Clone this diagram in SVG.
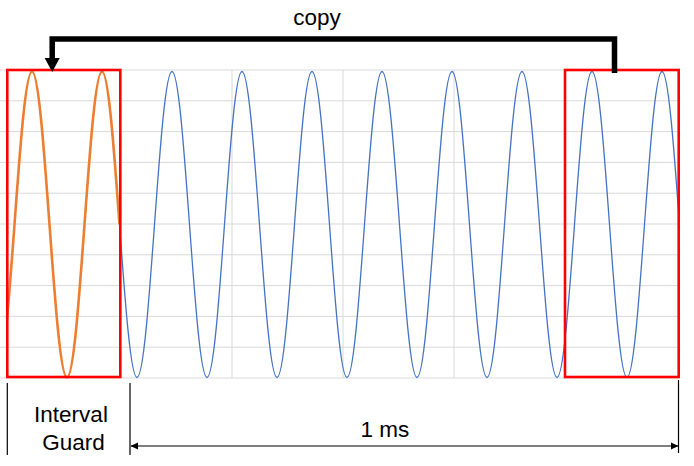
<svg xmlns="http://www.w3.org/2000/svg" width="694" height="466" viewBox="0 0 694 466">
  <style>
    .grid { stroke: #D9D9D9; stroke-width: 1; fill: none; }
    .box { fill: none; stroke: #FF0000; stroke-width: 2.6; }
    .wave-blue { fill: none; stroke: #4472C4; stroke-width: 1.3; }
    .wave-orange { fill: none; stroke: #ED7D31; stroke-width: 2.6; }
    .lbl { font-family: "Liberation Sans", Arial, sans-serif; font-size: 22.5px; fill: #000; }
    .thin { stroke: #000; stroke-width: 1.2; fill: none; }
  </style>
  <defs>
    <marker id="bigHead" markerUnits="userSpaceOnUse" markerWidth="16" markerHeight="16" viewBox="0 -8 16 16" refX="1" refY="0" orient="auto">
      <path d="M0,-7.5 L14,0 L0,7.5 Z" fill="#000"/>
    </marker>
    <marker id="smallHead" markerUnits="userSpaceOnUse" markerWidth="8" markerHeight="8" viewBox="0 -4 8 8" refX="7" refY="0" orient="auto-start-reverse">
      <path d="M0,-3.5 L7.5,0 L0,3.5 Z" fill="#000"/>
    </marker>
  </defs>
  <rect width="694" height="466" fill="#FFFFFF"/>

  <g id="chart-grid">
    <path class="grid" d="M0,70H678 M0,100.8H678 M0,131.6H678 M0,162.4H678 M0,193.2H678 M0,224H678 M0,254.8H678 M0,285.6H678 M0,316.4H678 M0,347.2H678 M0,378H678 M232,70V378 M343,70V378 M454,70V378"/>
  </g>

  <g id="waveform">
    <path class="wave-blue" d="M119.5,224.5
      c5.71,78.38 11.17,153 17.5,153 c6.33,0 11.79,-74.62 17.5,-153 c5.71,-78.38 11.17,-153 17.5,-153 c6.33,0 11.79,74.62 17.5,153
      c5.71,78.38 11.17,153 17.5,153 c6.33,0 11.79,-74.62 17.5,-153 c5.71,-78.38 11.17,-153 17.5,-153 c6.33,0 11.79,74.62 17.5,153
      c5.71,78.38 11.17,153 17.5,153 c6.33,0 11.79,-74.62 17.5,-153 c5.71,-78.38 11.17,-153 17.5,-153 c6.33,0 11.79,74.62 17.5,153
      c5.71,78.38 11.17,153 17.5,153 c6.33,0 11.79,-74.62 17.5,-153 c5.71,-78.38 11.17,-153 17.5,-153 c6.33,0 11.79,74.62 17.5,153
      c5.71,78.38 11.17,153 17.5,153 c6.33,0 11.79,-74.62 17.5,-153 c5.71,-78.38 11.17,-153 17.5,-153 c6.33,0 11.79,74.62 17.5,153
      c5.71,78.38 11.17,153 17.5,153 c6.33,0 11.79,-74.62 17.5,-153 c5.71,-78.38 11.17,-153 17.5,-153 c6.33,0 11.79,74.62 17.5,153
      c5.71,78.38 11.17,153 17.5,153 c6.33,0 11.79,-74.62 17.5,-153 c5.71,-78.38 11.17,-153 17.5,-153 c6.33,0 11.79,74.62 17.5,153
      c5.71,78.38 11.17,153 17.5,153 c6.33,0 11.79,-74.62 17.5,-153 c5.71,-78.38 11.17,-153 17.5,-153 c6.33,0 11.79,74.62 17.5,153"/>
    <path class="wave-orange" d="M7,318 C9.5,292 12,258.8 14.5,224.5
      c5.71,-78.38 11.17,-153 17.5,-153 c6.33,0 11.79,74.62 17.5,153
      c5.71,78.38 11.17,153 17.5,153 c6.33,0 11.79,-74.62 17.5,-153
      c5.71,-78.38 11.17,-153 17.5,-153 c6.33,0 11.79,74.62 17.5,153"/>
  </g>

  <g id="guard-interval-box">
    <rect class="box" x="7.3" y="70" width="113" height="307"/>
  </g>
  <g id="copied-tail-box">
    <rect class="box" x="565" y="70" width="113.7" height="307"/>
  </g>

  <g id="labels">
    <text class="lbl" x="317" y="25" text-anchor="middle">copy</text>
    <text class="lbl" x="71" y="421.7" text-anchor="middle">Interval</text>
    <text class="lbl" x="73.5" y="450" text-anchor="middle">Guard</text>
    <text class="lbl" x="385" y="436.5" text-anchor="middle">1 ms</text>
  </g>

  <g id="connectors">
    <polyline points="614.5,73 614.5,39 52.2,39 52.2,59" fill="none" stroke="#000" stroke-width="5.5" stroke-linejoin="miter" marker-end="url(#bigHead)"/>
    <line class="thin" x1="7.3" y1="383" x2="7.3" y2="455"/>
    <line class="thin" x1="130" y1="383" x2="130" y2="455"/>
    <line class="thin" x1="678.5" y1="380" x2="678.5" y2="453"/>
    <line class="thin" x1="131" y1="446" x2="678" y2="446" marker-start="url(#smallHead)" marker-end="url(#smallHead)"/>
  </g>
</svg>
